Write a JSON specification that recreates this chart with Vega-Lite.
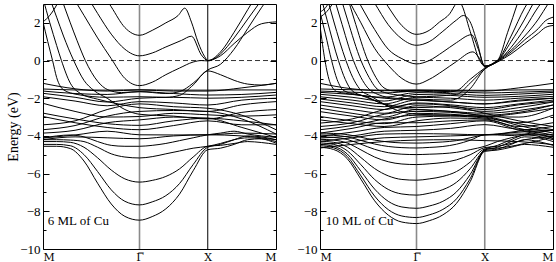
{
"$schema": "https://vega.github.io/schema/vega-lite/v6.json",
"padding": {"left": 5, "top": 2, "right": 3, "bottom": 0},
"background": "white",
"spacing": 19,
"config": {
  "view": {"stroke": "black", "strokeWidth": 1},
  "font": "Liberation Serif",
  "axisY": {"domain": false, "grid": false, "labelFont": "Liberation Serif", "labelFontSize": 13, "labelColor": "black", "tickColor": "black", "labelOverlap": false, "labelPadding": 9},
  "axisX": {"domain": false, "grid": false, "ticks": false, "labelFont": "DejaVu Serif", "labelFontSize": 11, "labelColor": "black", "labelPadding": 2, "title": null, "labelOverlap": false}
},
"datasets": {
"L": [
{"b":"u1","k":0.8,"e":4},{"b":"u1","k":1,"e":2.85},{"b":"u1","k":1.2,"e":1.75},{"b":"u1","k":1.414,"e":1.34},{"b":"u1","k":1.6,"e":1.6},{"b":"u1","k":1.8,"e":2},{"b":"u1","k":1.98,"e":2.39},{"b":"u1","k":2.077,"e":2.78},{"b":"u1","k":2.175,"e":2.04},{"b":"u1","k":2.27,"e":0.99},{"b":"u1","k":2.37,"e":0.2},{"b":"u1","k":2.414,"e":0},{"b":"u1","k":2.6,"e":0.45},{"b":"u1","k":2.8,"e":1.5},{"b":"u1","k":3,"e":2.7},{"b":"u1","k":3.2,"e":3.9},
{"b":"u2","k":0.6,"e":3.7},{"b":"u2","k":0.8,"e":2.5},{"b":"u2","k":1,"e":1.4},{"b":"u2","k":1.2,"e":0.6},{"b":"u2","k":1.414,"e":0.25},{"b":"u2","k":1.6,"e":0.4},{"b":"u2","k":1.8,"e":0.72},{"b":"u2","k":2.03,"e":1.07},{"b":"u2","k":2.175,"e":1.29},{"b":"u2","k":2.32,"e":0.3},{"b":"u2","k":2.414,"e":0},{"b":"u2","k":2.6,"e":0.25},{"b":"u2","k":2.8,"e":0.9},{"b":"u2","k":3,"e":1.5},{"b":"u2","k":3.2,"e":1.95},{"b":"u2","k":3.414,"e":2.05},
{"b":"u3","k":0.4,"e":3.6},{"b":"u3","k":0.6,"e":2.4},{"b":"u3","k":0.8,"e":1.2},{"b":"u3","k":1,"e":0.1},{"b":"u3","k":1.2,"e":-0.95},{"b":"u3","k":1.414,"e":-1.33},{"b":"u3","k":1.6,"e":-1.15},{"b":"u3","k":1.8,"e":-0.75},{"b":"u3","k":2,"e":-0.4},{"b":"u3","k":2.2,"e":-0.08},{"b":"u3","k":2.32,"e":0},{"b":"u3","k":2.414,"e":-0.02},{"b":"u3","k":2.6,"e":0.35},{"b":"u3","k":2.8,"e":1.2},{"b":"u3","k":3,"e":2.2},{"b":"u3","k":3.2,"e":3.2},
{"b":"a1","k":0,"e":2.05},{"b":"a1","k":0.1,"e":2.4},{"b":"a1","k":0.2,"e":2.95},{"b":"a1","k":0.26,"e":3.4},
{"b":"f2","k":0,"e":2.05},{"b":"f2","k":0.07,"e":1},{"b":"f2","k":0.14,"e":0},{"b":"f2","k":0.2,"e":-0.9},{"b":"f2","k":0.3,"e":-1.55},{"b":"f2","k":0.5,"e":-1.8},{"b":"f2","k":0.94,"e":-1.95},{"b":"f2","k":1.414,"e":-1.92},{"b":"f2","k":1.8,"e":-1.95},{"b":"f2","k":2,"e":-1.85},{"b":"f2","k":2.2,"e":-1.3},{"b":"f2","k":2.414,"e":-0.55},{"b":"f2","k":2.6,"e":-0.75},{"b":"f2","k":2.8,"e":-1.05},{"b":"f2","k":3,"e":-1.25},{"b":"f2","k":3.2,"e":-1.3},{"b":"f2","k":3.414,"e":-1.21},
{"b":"f5","k":0.25,"e":3.5},{"b":"f5","k":0.4,"e":2},{"b":"f5","k":0.5,"e":1.05},{"b":"f5","k":0.62,"e":0},{"b":"f5","k":0.8,"e":-1.1},{"b":"f5","k":0.95,"e":-1.55},{"b":"f5","k":1.15,"e":-1.7},{"b":"f5","k":1.414,"e":-1.65},{"b":"f5","k":1.8,"e":-1.75},{"b":"f5","k":2,"e":-1.65},{"b":"f5","k":2.2,"e":-1.2},{"b":"f5","k":2.414,"e":-0.5},{"b":"f5","k":2.6,"e":-0.2},{"b":"f5","k":2.8,"e":0.6},{"b":"f5","k":3,"e":1.7},{"b":"f5","k":3.2,"e":2.8},{"b":"f5","k":3.414,"e":3.9},
{"b":"f3","k":0,"e":3.3},{"b":"f3","k":0.1,"e":2},{"b":"f3","k":0.2,"e":0.8},{"b":"f3","k":0.27,"e":0},{"b":"f3","k":0.4,"e":-1.2},{"b":"f3","k":0.55,"e":-1.75},{"b":"f3","k":0.8,"e":-2.05},{"b":"f3","k":1.1,"e":-2.3},{"b":"f3","k":1.414,"e":-2.5},{"b":"f3","k":1.914,"e":-2.6},{"b":"f3","k":2.414,"e":-2.7},{"b":"f3","k":2.914,"e":-2.35},{"b":"f3","k":3.414,"e":-2.18},
{"b":"f4","k":0.1,"e":3.3},{"b":"f4","k":0.2,"e":2.3},{"b":"f4","k":0.3,"e":1.3},{"b":"f4","k":0.45,"e":0},{"b":"f4","k":0.6,"e":-1.05},{"b":"f4","k":0.75,"e":-1.6},{"b":"f4","k":0.94,"e":-2},{"b":"f4","k":1.2,"e":-2.6},{"b":"f4","k":1.414,"e":-2.85},{"b":"f4","k":1.914,"e":-2.95},{"b":"f4","k":2.414,"e":-3.1},{"b":"f4","k":2.914,"e":-2.75},{"b":"f4","k":3.414,"e":-2.6},
{"b":"d1","k":0,"e":-1.21},{"b":"d1","k":0.47,"e":-1.5},{"b":"d1","k":0.94,"e":-1.62},{"b":"d1","k":1.414,"e":-1.56},{"b":"d1","k":1.914,"e":-1.62},{"b":"d1","k":2.414,"e":-1.62},{"b":"d1","k":2.914,"e":-1.45},{"b":"d1","k":3.414,"e":-1.21},
{"b":"d2","k":0,"e":-1.51},{"b":"d2","k":0.47,"e":-1.56},{"b":"d2","k":0.94,"e":-1.57},{"b":"d2","k":1.414,"e":-1.55},{"b":"d2","k":1.914,"e":-1.57},{"b":"d2","k":2.414,"e":-1.57},{"b":"d2","k":2.914,"e":-1.56},{"b":"d2","k":3.414,"e":-1.56},
{"b":"d3","k":0,"e":-1.62},{"b":"d3","k":0.47,"e":-1.75},{"b":"d3","k":0.94,"e":-1.8},{"b":"d3","k":1.414,"e":-1.65},{"b":"d3","k":1.914,"e":-1.75},{"b":"d3","k":2.414,"e":-1.83},{"b":"d3","k":2.914,"e":-1.8},{"b":"d3","k":3.414,"e":-1.69},
{"b":"d4","k":0,"e":-1.74},{"b":"d4","k":0.47,"e":-1.95},{"b":"d4","k":0.94,"e":-2.2},{"b":"d4","k":1.414,"e":-2},{"b":"d4","k":1.914,"e":-1.95},{"b":"d4","k":2.414,"e":-2},{"b":"d4","k":2.914,"e":-1.95},{"b":"d4","k":3.414,"e":-1.83},
{"b":"d5","k":0,"e":-1.92},{"b":"d5","k":0.47,"e":-2.15},{"b":"d5","k":0.94,"e":-2.4},{"b":"d5","k":1.414,"e":-2.18},{"b":"d5","k":1.914,"e":-2.25},{"b":"d5","k":2.414,"e":-2.36},{"b":"d5","k":2.914,"e":-2.1},{"b":"d5","k":3.414,"e":-2},
{"b":"d7","k":0,"e":-2.27},{"b":"d7","k":0.47,"e":-2.7},{"b":"d7","k":0.94,"e":-3},{"b":"d7","k":1.414,"e":-2.97},{"b":"d7","k":1.914,"e":-2.8},{"b":"d7","k":2.414,"e":-2.88},{"b":"d7","k":2.914,"e":-2.95},{"b":"d7","k":3.414,"e":-2.88},
{"b":"d8","k":0,"e":-2.79},{"b":"d8","k":0.47,"e":-3.1},{"b":"d8","k":0.94,"e":-3.35},{"b":"d8","k":1.414,"e":-3.44},{"b":"d8","k":1.914,"e":-3.2},{"b":"d8","k":2.414,"e":-3.06},{"b":"d8","k":2.914,"e":-3.2},{"b":"d8","k":3.414,"e":-3.41},
{"b":"d9","k":0,"e":-2.97},{"b":"d9","k":0.47,"e":-3.3},{"b":"d9","k":0.94,"e":-3.55},{"b":"d9","k":1.414,"e":-3.67},{"b":"d9","k":1.914,"e":-3.45},{"b":"d9","k":2.414,"e":-3.2},{"b":"d9","k":2.914,"e":-3.41},{"b":"d9","k":3.414,"e":-3.41},
{"b":"d10","k":0,"e":-3.41},{"b":"d10","k":0.47,"e":-3.2},{"b":"d10","k":0.94,"e":-2.6},{"b":"d10","k":1.414,"e":-2.3},{"b":"d10","k":1.914,"e":-2.45},{"b":"d10","k":2.414,"e":-2.53},{"b":"d10","k":2.914,"e":-2.9},{"b":"d10","k":3.414,"e":-3.67},
{"b":"d11","k":0,"e":-3.67},{"b":"d11","k":0.47,"e":-3.45},{"b":"d11","k":0.94,"e":-2.95},{"b":"d11","k":1.414,"e":-2.7},{"b":"d11","k":1.914,"e":-2.65},{"b":"d11","k":2.414,"e":-2.7},{"b":"d11","k":2.914,"e":-3.1},{"b":"d11","k":3.414,"e":-3.9},
{"b":"d12","k":0,"e":-3.85},{"b":"d12","k":0.47,"e":-3.7},{"b":"d12","k":0.94,"e":-3.3},{"b":"d12","k":1.414,"e":-3.15},{"b":"d12","k":1.914,"e":-3},{"b":"d12","k":2.414,"e":-3.06},{"b":"d12","k":2.914,"e":-3.55},{"b":"d12","k":3.414,"e":-4.08},
{"b":"d13","k":0,"e":-4.11},{"b":"d13","k":0.47,"e":-3.95},{"b":"d13","k":0.94,"e":-3.75},{"b":"d13","k":1.414,"e":-3.94},{"b":"d13","k":1.914,"e":-3.95},{"b":"d13","k":2.414,"e":-3.94},{"b":"d13","k":2.914,"e":-3.85},{"b":"d13","k":3.414,"e":-3.9},
{"b":"d14","k":0,"e":-4.2},{"b":"d14","k":0.47,"e":-4.05},{"b":"d14","k":0.94,"e":-4.1},{"b":"d14","k":1.414,"e":-4.15},{"b":"d14","k":1.914,"e":-4},{"b":"d14","k":2.414,"e":-3.94},{"b":"d14","k":2.914,"e":-4},{"b":"d14","k":3.414,"e":-4.2},
{"b":"q1","k":0,"e":-4.55},{"b":"q1","k":0.2,"e":-4.55},{"b":"q1","k":0.4,"e":-4.67},{"b":"q1","k":0.6,"e":-5.33},{"b":"q1","k":0.8,"e":-6.51},{"b":"q1","k":1,"e":-7.61},{"b":"q1","k":1.2,"e":-8.27},{"b":"q1","k":1.414,"e":-8.47},{"b":"q1","k":1.6,"e":-8.28},{"b":"q1","k":1.8,"e":-7.87},{"b":"q1","k":2,"e":-7.09},{"b":"q1","k":2.2,"e":-5.85},{"b":"q1","k":2.414,"e":-4.73},{"b":"q1","k":2.6,"e":-4.65},{"b":"q1","k":2.8,"e":-4.45},{"b":"q1","k":3,"e":-4.2},{"b":"q1","k":3.2,"e":-4.15},{"b":"q1","k":3.414,"e":-4.3},
{"b":"q2","k":0,"e":-4.45},{"b":"q2","k":0.2,"e":-4.45},{"b":"q2","k":0.4,"e":-4.52},{"b":"q2","k":0.6,"e":-4.99},{"b":"q2","k":0.8,"e":-5.89},{"b":"q2","k":1,"e":-6.86},{"b":"q2","k":1.2,"e":-7.47},{"b":"q2","k":1.414,"e":-7.66},{"b":"q2","k":1.6,"e":-7.5},{"b":"q2","k":1.8,"e":-7.17},{"b":"q2","k":2,"e":-6.53},{"b":"q2","k":2.2,"e":-5.52},{"b":"q2","k":2.414,"e":-4.6},{"b":"q2","k":2.6,"e":-4.45},{"b":"q2","k":2.8,"e":-4.2},{"b":"q2","k":3,"e":-4},{"b":"q2","k":3.2,"e":-4.05},{"b":"q2","k":3.414,"e":-4.2},
{"b":"q3","k":0,"e":-4.3},{"b":"q3","k":0.2,"e":-4.3},{"b":"q3","k":0.4,"e":-4.34},{"b":"q3","k":0.6,"e":-4.6},{"b":"q3","k":0.8,"e":-5.16},{"b":"q3","k":1,"e":-5.81},{"b":"q3","k":1.2,"e":-6.28},{"b":"q3","k":1.414,"e":-6.45},{"b":"q3","k":1.6,"e":-6.36},{"b":"q3","k":1.8,"e":-6.15},{"b":"q3","k":2,"e":-5.75},{"b":"q3","k":2.2,"e":-5.12},{"b":"q3","k":2.414,"e":-4.55},{"b":"q3","k":2.6,"e":-4.5},{"b":"q3","k":2.8,"e":-4.4},{"b":"q3","k":3,"e":-4.3},{"b":"q3","k":3.2,"e":-4.35},{"b":"q3","k":3.414,"e":-4.45},
{"b":"q4","k":0,"e":-4.2},{"b":"q4","k":0.2,"e":-4.2},{"b":"q4","k":0.4,"e":-4.22},{"b":"q4","k":0.6,"e":-4.3},{"b":"q4","k":0.8,"e":-4.6},{"b":"q4","k":1,"e":-4.95},{"b":"q4","k":1.2,"e":-5.12},{"b":"q4","k":1.414,"e":-5.17},{"b":"q4","k":1.6,"e":-5.1},{"b":"q4","k":1.8,"e":-4.95},{"b":"q4","k":2,"e":-4.8},{"b":"q4","k":2.2,"e":-4.65},{"b":"q4","k":2.414,"e":-4.55},{"b":"q4","k":2.6,"e":-4.4},{"b":"q4","k":2.8,"e":-4.2},{"b":"q4","k":3,"e":-4.1},{"b":"q4","k":3.2,"e":-4.15},{"b":"q4","k":3.414,"e":-4.38},
{"b":"q5","k":0,"e":-4.11},{"b":"q5","k":0.2,"e":-4},{"b":"q5","k":0.4,"e":-3.95},{"b":"q5","k":0.6,"e":-4.05},{"b":"q5","k":0.8,"e":-4.3},{"b":"q5","k":1,"e":-4.5},{"b":"q5","k":1.2,"e":-4.55},{"b":"q5","k":1.414,"e":-4.55},{"b":"q5","k":1.6,"e":-4.5},{"b":"q5","k":1.8,"e":-4.4},{"b":"q5","k":2,"e":-4.25},{"b":"q5","k":2.2,"e":-4.1},{"b":"q5","k":2.414,"e":-3.94},{"b":"q5","k":2.6,"e":-3.85},{"b":"q5","k":2.8,"e":-3.75},{"b":"q5","k":3,"e":-3.9},{"b":"q5","k":3.2,"e":-4},{"b":"q5","k":3.414,"e":-4.08}
],
"R": [
{"b":"v1","k":0.8,"e":4},{"b":"v1","k":1,"e":2.85},{"b":"v1","k":1.2,"e":1.85},{"b":"v1","k":1.414,"e":1.39},{"b":"v1","k":1.6,"e":1.6},{"b":"v1","k":1.75,"e":2.04},{"b":"v1","k":1.9,"e":2.48},{"b":"v1","k":2,"e":3.05},{"b":"v1","k":2.03,"e":3.15},{"b":"v1","k":2.06,"e":3.05},{"b":"v1","k":2.2,"e":1.55},{"b":"v1","k":2.34,"e":0},{"b":"v1","k":2.414,"e":-0.3},{"b":"v1","k":2.6,"e":0},{"b":"v1","k":2.75,"e":1.5},{"b":"v1","k":2.9,"e":3.1},
{"b":"v2","k":0.6,"e":4.2},{"b":"v2","k":0.8,"e":3.05},{"b":"v2","k":1,"e":1.9},{"b":"v2","k":1.2,"e":1.15},{"b":"v2","k":1.414,"e":0.81},{"b":"v2","k":1.6,"e":1},{"b":"v2","k":1.8,"e":1.55},{"b":"v2","k":2,"e":2.15},{"b":"v2","k":2.1,"e":2.39},{"b":"v2","k":2.2,"e":2.05},{"b":"v2","k":2.3,"e":1},{"b":"v2","k":2.414,"e":-0.3},{"b":"v2","k":2.6,"e":0},{"b":"v2","k":2.8,"e":1.3},{"b":"v2","k":3,"e":2.8},{"b":"v2","k":3.05,"e":3.1},
{"b":"v3","k":0.45,"e":3.9},{"b":"v3","k":0.6,"e":2.9},{"b":"v3","k":0.8,"e":1.65},{"b":"v3","k":1,"e":0.6},{"b":"v3","k":1.2,"e":0.1},{"b":"v3","k":1.414,"e":-0.18},{"b":"v3","k":1.6,"e":0},{"b":"v3","k":1.8,"e":0.45},{"b":"v3","k":2,"e":0.95},{"b":"v3","k":2.22,"e":1.37},{"b":"v3","k":2.32,"e":0.6},{"b":"v3","k":2.414,"e":-0.3},{"b":"v3","k":2.6,"e":-0.02},{"b":"v3","k":2.8,"e":1},{"b":"v3","k":3,"e":2.2},{"b":"v3","k":3.12,"e":3},{"b":"v3","k":3.2,"e":3.5},
{"b":"v4","k":0.3,"e":4.3},{"b":"v4","k":0.4,"e":3.4},{"b":"v4","k":0.6,"e":2},{"b":"v4","k":0.8,"e":0.65},{"b":"v4","k":1,"e":-0.25},{"b":"v4","k":1.2,"e":-0.95},{"b":"v4","k":1.414,"e":-1.25},{"b":"v4","k":1.6,"e":-1},{"b":"v4","k":1.8,"e":-0.55},{"b":"v4","k":2,"e":-0.05},{"b":"v4","k":2.24,"e":0.46},{"b":"v4","k":2.33,"e":0.15},{"b":"v4","k":2.414,"e":-0.3},{"b":"v4","k":2.6,"e":-0.05},{"b":"v4","k":2.8,"e":0.7},{"b":"v4","k":3,"e":1.7},{"b":"v4","k":3.2,"e":2.85},{"b":"v4","k":3.25,"e":3.1},
{"b":"v5","k":0.4,"e":3.4},{"b":"v5","k":0.5,"e":2.2},{"b":"v5","k":0.7,"e":0},{"b":"v5","k":0.82,"e":-0.9},{"b":"v5","k":0.92,"e":-1.4},{"b":"v5","k":1.05,"e":-1.6},{"b":"v5","k":1.25,"e":-1.65},{"b":"v5","k":1.414,"e":-1.6},{"b":"v5","k":1.8,"e":-1.7},{"b":"v5","k":2,"e":-1.6},{"b":"v5","k":2.2,"e":-1},{"b":"v5","k":2.414,"e":-0.4},{"b":"v5","k":2.6,"e":0},{"b":"v5","k":2.8,"e":0.55},{"b":"v5","k":3,"e":1.3},{"b":"v5","k":3.2,"e":2.2},{"b":"v5","k":3.34,"e":3},{"b":"v5","k":3.414,"e":3.4},
{"b":"v6","k":0.3,"e":3.4},{"b":"v6","k":0.4,"e":2.2},{"b":"v6","k":0.6,"e":0},{"b":"v6","k":0.72,"e":-0.9},{"b":"v6","k":0.82,"e":-1.45},{"b":"v6","k":0.95,"e":-1.7},{"b":"v6","k":1.2,"e":-1.85},{"b":"v6","k":1.414,"e":-1.92},{"b":"v6","k":2,"e":-1.8},{"b":"v6","k":2.2,"e":-1.2},{"b":"v6","k":2.414,"e":-0.45},{"b":"v6","k":2.6,"e":-0.05},{"b":"v6","k":2.8,"e":0.45},{"b":"v6","k":3,"e":1.1},{"b":"v6","k":3.2,"e":1.7},{"b":"v6","k":3.3,"e":2.1},{"b":"v6","k":3.414,"e":2.3},
{"b":"v7","k":0.2,"e":3.4},{"b":"v7","k":0.3,"e":2.2},{"b":"v7","k":0.49,"e":0},{"b":"v7","k":0.6,"e":-0.9},{"b":"v7","k":0.7,"e":-1.45},{"b":"v7","k":0.85,"e":-1.8},{"b":"v7","k":1.1,"e":-2},{"b":"v7","k":1.414,"e":-2.04},{"b":"v7","k":1.914,"e":-2.1},{"b":"v7","k":2.2,"e":-1.5},{"b":"v7","k":2.414,"e":-0.45},{"b":"v7","k":2.6,"e":-0.08},{"b":"v7","k":2.8,"e":0.35},{"b":"v7","k":3,"e":0.9},{"b":"v7","k":3.2,"e":1.45},{"b":"v7","k":3.3,"e":1.75},{"b":"v7","k":3.414,"e":1.86},
{"b":"g1","k":0,"e":1.86},{"b":"g1","k":0.073,"e":0},{"b":"g1","k":0.15,"e":-1.2},{"b":"g1","k":0.25,"e":-1.65},{"b":"g1","k":0.5,"e":-1.8},{"b":"g1","k":0.94,"e":-2},{"b":"g1","k":1.414,"e":-2.1},{"b":"g1","k":1.914,"e":-2.2},{"b":"g1","k":2.414,"e":-2.3},{"b":"g1","k":2.914,"e":-2.1},{"b":"g1","k":3.414,"e":-2},
{"b":"g2","k":0,"e":2.57},{"b":"g2","k":0.08,"e":1.4},{"b":"g2","k":0.17,"e":0},{"b":"g2","k":0.25,"e":-1},{"b":"g2","k":0.35,"e":-1.6},{"b":"g2","k":0.6,"e":-1.85},{"b":"g2","k":0.94,"e":-2.3},{"b":"g2","k":1.414,"e":-2.5},{"b":"g2","k":1.914,"e":-2.45},{"b":"g2","k":2.414,"e":-2.6},{"b":"g2","k":2.914,"e":-2.35},{"b":"g2","k":3.414,"e":-2.18},
{"b":"g3","k":0.02,"e":3.3},{"b":"g3","k":0.1,"e":2.2},{"b":"g3","k":0.27,"e":0},{"b":"g3","k":0.37,"e":-1},{"b":"g3","k":0.47,"e":-1.6},{"b":"g3","k":0.7,"e":-1.95},{"b":"g3","k":1,"e":-2.4},{"b":"g3","k":1.414,"e":-2.6},{"b":"g3","k":1.914,"e":-2.7},{"b":"g3","k":2.414,"e":-2.8},{"b":"g3","k":2.914,"e":-2.65},{"b":"g3","k":3.414,"e":-2.36},
{"b":"g4","k":0.1,"e":3.4},{"b":"g4","k":0.2,"e":2.1},{"b":"g4","k":0.38,"e":0},{"b":"g4","k":0.48,"e":-0.9},{"b":"g4","k":0.58,"e":-1.5},{"b":"g4","k":0.75,"e":-1.9},{"b":"g4","k":1.1,"e":-2.6},{"b":"g4","k":1.414,"e":-2.85},{"b":"g4","k":1.914,"e":-2.9},{"b":"g4","k":2.414,"e":-2.97},{"b":"g4","k":2.914,"e":-2.8},{"b":"g4","k":3.414,"e":-2.53},
{"b":"a1","k":0,"e":2.57},{"b":"a1","k":0.08,"e":2.8},{"b":"a1","k":0.15,"e":3.2},
{"b":"a2","k":0,"e":2.3},{"b":"a2","k":0.1,"e":2.6},{"b":"a2","k":0.2,"e":3.1},
{"b":"r1","k":0,"e":-1.21},{"b":"r1","k":0.47,"e":-1.5},{"b":"r1","k":0.94,"e":-1.6},{"b":"r1","k":1.414,"e":-1.58},{"b":"r1","k":1.914,"e":-1.6},{"b":"r1","k":2.414,"e":-1.62},{"b":"r1","k":2.914,"e":-1.45},{"b":"r1","k":3.414,"e":-1.21},
{"b":"r2","k":0,"e":-1.51},{"b":"r2","k":0.47,"e":-1.55},{"b":"r2","k":0.94,"e":-1.57},{"b":"r2","k":1.414,"e":-1.56},{"b":"r2","k":1.914,"e":-1.57},{"b":"r2","k":2.414,"e":-1.58},{"b":"r2","k":2.914,"e":-1.56},{"b":"r2","k":3.414,"e":-1.55},
{"b":"r3","k":0,"e":-1.62},{"b":"r3","k":0.47,"e":-1.68},{"b":"r3","k":0.94,"e":-1.72},{"b":"r3","k":1.414,"e":-1.62},{"b":"r3","k":1.914,"e":-1.65},{"b":"r3","k":2.414,"e":-1.72},{"b":"r3","k":2.914,"e":-1.68},{"b":"r3","k":3.414,"e":-1.62},
{"b":"r4","k":0,"e":-1.69},{"b":"r4","k":0.47,"e":-1.8},{"b":"r4","k":0.94,"e":-1.95},{"b":"r4","k":1.414,"e":-1.7},{"b":"r4","k":1.914,"e":-1.75},{"b":"r4","k":2.414,"e":-1.85},{"b":"r4","k":2.914,"e":-1.78},{"b":"r4","k":3.414,"e":-1.69},
{"b":"r5","k":0,"e":-1.79},{"b":"r5","k":0.47,"e":-1.95},{"b":"r5","k":0.94,"e":-2.15},{"b":"r5","k":1.414,"e":-1.8},{"b":"r5","k":1.914,"e":-1.85},{"b":"r5","k":2.414,"e":-1.95},{"b":"r5","k":2.914,"e":-1.9},{"b":"r5","k":3.414,"e":-1.79},
{"b":"r6","k":0,"e":-1.92},{"b":"r6","k":0.47,"e":-2.1},{"b":"r6","k":0.94,"e":-2.3},{"b":"r6","k":1.414,"e":-1.95},{"b":"r6","k":1.914,"e":-2},{"b":"r6","k":2.414,"e":-2.1},{"b":"r6","k":2.914,"e":-2},{"b":"r6","k":3.414,"e":-1.9},
{"b":"r7","k":0,"e":-2.04},{"b":"r7","k":0.47,"e":-2.25},{"b":"r7","k":0.94,"e":-2.45},{"b":"r7","k":1.414,"e":-2.1},{"b":"r7","k":1.914,"e":-2.2},{"b":"r7","k":2.414,"e":-2.3},{"b":"r7","k":2.914,"e":-2.15},{"b":"r7","k":3.414,"e":-2},
{"b":"r8","k":0,"e":-2.18},{"b":"r8","k":0.47,"e":-2.4},{"b":"r8","k":0.94,"e":-2.6},{"b":"r8","k":1.414,"e":-2.25},{"b":"r8","k":1.914,"e":-2.35},{"b":"r8","k":2.414,"e":-2.5},{"b":"r8","k":2.914,"e":-2.3},{"b":"r8","k":3.414,"e":-2.1},
{"b":"r9","k":0,"e":-2.36},{"b":"r9","k":0.47,"e":-2.6},{"b":"r9","k":0.94,"e":-2.8},{"b":"r9","k":1.414,"e":-2.4},{"b":"r9","k":1.914,"e":-2.5},{"b":"r9","k":2.414,"e":-2.7},{"b":"r9","k":2.914,"e":-2.5},{"b":"r9","k":3.414,"e":-2.2},
{"b":"r10","k":0,"e":-2.53},{"b":"r10","k":0.47,"e":-2.8},{"b":"r10","k":0.94,"e":-3},{"b":"r10","k":1.414,"e":-2.6},{"b":"r10","k":1.914,"e":-2.7},{"b":"r10","k":2.414,"e":-2.9},{"b":"r10","k":2.914,"e":-2.75},{"b":"r10","k":3.414,"e":-2.36},
{"b":"r11","k":0,"e":-2.71},{"b":"r11","k":0.47,"e":-2.95},{"b":"r11","k":0.94,"e":-3.15},{"b":"r11","k":1.414,"e":-2.8},{"b":"r11","k":1.914,"e":-2.85},{"b":"r11","k":2.414,"e":-2.97},{"b":"r11","k":2.914,"e":-3},{"b":"r11","k":3.414,"e":-2.53},
{"b":"r12","k":0,"e":-2.97},{"b":"r12","k":0.47,"e":-3.2},{"b":"r12","k":0.94,"e":-3.35},{"b":"r12","k":1.414,"e":-3},{"b":"r12","k":1.914,"e":-2.95},{"b":"r12","k":2.414,"e":-3.05},{"b":"r12","k":2.914,"e":-3.3},{"b":"r12","k":3.414,"e":-2.9},
{"b":"r13","k":0,"e":-3.15},{"b":"r13","k":0.47,"e":-3.35},{"b":"r13","k":0.94,"e":-3.5},{"b":"r13","k":1.414,"e":-3.2},{"b":"r13","k":1.914,"e":-3.05},{"b":"r13","k":2.414,"e":-3.1},{"b":"r13","k":2.914,"e":-3.5},{"b":"r13","k":3.414,"e":-3.3},
{"b":"r14","k":0,"e":-3.32},{"b":"r14","k":0.47,"e":-3.1},{"b":"r14","k":0.94,"e":-2.6},{"b":"r14","k":1.414,"e":-2.3},{"b":"r14","k":1.914,"e":-2.4},{"b":"r14","k":2.414,"e":-2.8},{"b":"r14","k":2.914,"e":-3.2},{"b":"r14","k":3.414,"e":-3.5},
{"b":"r15","k":0,"e":-3.5},{"b":"r15","k":0.47,"e":-3.3},{"b":"r15","k":0.94,"e":-2.85},{"b":"r15","k":1.414,"e":-2.7},{"b":"r15","k":1.914,"e":-2.75},{"b":"r15","k":2.414,"e":-2.95},{"b":"r15","k":2.914,"e":-3.35},{"b":"r15","k":3.414,"e":-3.67},
{"b":"r16","k":0,"e":-3.67},{"b":"r16","k":0.47,"e":-3.45},{"b":"r16","k":0.94,"e":-3.1},{"b":"r16","k":1.414,"e":-2.9},{"b":"r16","k":1.914,"e":-2.9},{"b":"r16","k":2.414,"e":-3},{"b":"r16","k":2.914,"e":-3.45},{"b":"r16","k":3.414,"e":-3.85},
{"b":"r17","k":0,"e":-3.85},{"b":"r17","k":0.47,"e":-3.6},{"b":"r17","k":0.94,"e":-3.3},{"b":"r17","k":1.414,"e":-3.3},{"b":"r17","k":1.914,"e":-3.2},{"b":"r17","k":2.414,"e":-3.15},{"b":"r17","k":2.914,"e":-3.6},{"b":"r17","k":3.414,"e":-3.95},
{"b":"r18","k":0,"e":-4.02},{"b":"r18","k":0.47,"e":-3.8},{"b":"r18","k":0.94,"e":-3.55},{"b":"r18","k":1.414,"e":-3.5},{"b":"r18","k":1.914,"e":-3.35},{"b":"r18","k":2.414,"e":-3.2},{"b":"r18","k":2.914,"e":-3.7},{"b":"r18","k":3.414,"e":-4.05},
{"b":"r19","k":0,"e":-4.11},{"b":"r19","k":0.47,"e":-4},{"b":"r19","k":0.94,"e":-3.75},{"b":"r19","k":1.414,"e":-3.7},{"b":"r19","k":1.914,"e":-3.6},{"b":"r19","k":2.414,"e":-3.4},{"b":"r19","k":2.914,"e":-3.65},{"b":"r19","k":3.414,"e":-3.7},
{"b":"r20","k":0,"e":-4.29},{"b":"r20","k":0.47,"e":-4.1},{"b":"r20","k":0.94,"e":-3.9},{"b":"r20","k":1.414,"e":-3.88},{"b":"r20","k":1.914,"e":-3.9},{"b":"r20","k":2.414,"e":-3.94},{"b":"r20","k":2.914,"e":-3.8},{"b":"r20","k":3.414,"e":-3.7},
{"b":"r21","k":0,"e":-4.46},{"b":"r21","k":0.47,"e":-4.3},{"b":"r21","k":0.94,"e":-4.1},{"b":"r21","k":1.414,"e":-4.05},{"b":"r21","k":1.914,"e":-4},{"b":"r21","k":2.414,"e":-3.94},{"b":"r21","k":2.914,"e":-3.9},{"b":"r21","k":3.414,"e":-4.2},
{"b":"r22","k":0,"e":-4.64},{"b":"r22","k":0.47,"e":-4.45},{"b":"r22","k":0.94,"e":-4.3},{"b":"r22","k":1.414,"e":-4.22},{"b":"r22","k":1.914,"e":-4.2},{"b":"r22","k":2.414,"e":-4.25},{"b":"r22","k":2.914,"e":-4.3},{"b":"r22","k":3.414,"e":-4.46},
{"b":"q1","k":0,"e":-4.6},{"b":"q1","k":0.2,"e":-4.72},{"b":"q1","k":0.4,"e":-5.21},{"b":"q1","k":0.6,"e":-6.3},{"b":"q1","k":0.8,"e":-7.44},{"b":"q1","k":1,"e":-8.2},{"b":"q1","k":1.2,"e":-8.57},{"b":"q1","k":1.414,"e":-8.65},{"b":"q1","k":1.6,"e":-8.5},{"b":"q1","k":1.8,"e":-8.19},{"b":"q1","k":2,"e":-7.58},{"b":"q1","k":2.2,"e":-6.43},{"b":"q1","k":2.414,"e":-4.82},{"b":"q1","k":2.6,"e":-4.75},{"b":"q1","k":2.8,"e":-4.6},{"b":"q1","k":3,"e":-4.45},{"b":"q1","k":3.2,"e":-4.5},{"b":"q1","k":3.414,"e":-4.6},
{"b":"q2","k":0,"e":-4.52},{"b":"q2","k":0.2,"e":-4.63},{"b":"q2","k":0.4,"e":-5.09},{"b":"q2","k":0.6,"e":-6.12},{"b":"q2","k":0.8,"e":-7.19},{"b":"q2","k":1,"e":-7.91},{"b":"q2","k":1.2,"e":-8.25},{"b":"q2","k":1.414,"e":-8.33},{"b":"q2","k":1.6,"e":-8.19},{"b":"q2","k":1.8,"e":-7.9},{"b":"q2","k":2,"e":-7.34},{"b":"q2","k":2.2,"e":-6.27},{"b":"q2","k":2.414,"e":-4.78},{"b":"q2","k":2.6,"e":-4.7},{"b":"q2","k":2.8,"e":-4.45},{"b":"q2","k":3,"e":-4.2},{"b":"q2","k":3.2,"e":-4.3},{"b":"q2","k":3.414,"e":-4.5},
{"b":"q3","k":0,"e":-4.45},{"b":"q3","k":0.2,"e":-4.55},{"b":"q3","k":0.4,"e":-4.96},{"b":"q3","k":0.6,"e":-5.87},{"b":"q3","k":0.8,"e":-6.82},{"b":"q3","k":1,"e":-7.47},{"b":"q3","k":1.2,"e":-7.77},{"b":"q3","k":1.414,"e":-7.84},{"b":"q3","k":1.6,"e":-7.72},{"b":"q3","k":1.8,"e":-7.47},{"b":"q3","k":2,"e":-6.97},{"b":"q3","k":2.2,"e":-6.05},{"b":"q3","k":2.414,"e":-4.75},{"b":"q3","k":2.6,"e":-4.6},{"b":"q3","k":2.8,"e":-4.3},{"b":"q3","k":3,"e":-4.05},{"b":"q3","k":3.2,"e":-4.1},{"b":"q3","k":3.414,"e":-4.3},
{"b":"q4","k":0,"e":-4.37},{"b":"q4","k":0.2,"e":-4.45},{"b":"q4","k":0.4,"e":-4.79},{"b":"q4","k":0.6,"e":-5.53},{"b":"q4","k":0.8,"e":-6.31},{"b":"q4","k":1,"e":-6.84},{"b":"q4","k":1.2,"e":-7.08},{"b":"q4","k":1.414,"e":-7.14},{"b":"q4","k":1.6,"e":-7.04},{"b":"q4","k":1.8,"e":-6.85},{"b":"q4","k":2,"e":-6.46},{"b":"q4","k":2.2,"e":-5.74},{"b":"q4","k":2.414,"e":-4.72},{"b":"q4","k":2.6,"e":-4.5},{"b":"q4","k":2.8,"e":-4.2},{"b":"q4","k":3,"e":-3.95},{"b":"q4","k":3.2,"e":-3.95},{"b":"q4","k":3.414,"e":-4.15},
{"b":"q5","k":0,"e":-4.28},{"b":"q5","k":0.2,"e":-4.34},{"b":"q5","k":0.4,"e":-4.59},{"b":"q5","k":0.6,"e":-5.15},{"b":"q5","k":0.8,"e":-5.73},{"b":"q5","k":1,"e":-6.12},{"b":"q5","k":1.2,"e":-6.31},{"b":"q5","k":1.414,"e":-6.35},{"b":"q5","k":1.6,"e":-6.28},{"b":"q5","k":1.8,"e":-6.15},{"b":"q5","k":2,"e":-5.89},{"b":"q5","k":2.2,"e":-5.39},{"b":"q5","k":2.414,"e":-4.7},{"b":"q5","k":2.6,"e":-4.65},{"b":"q5","k":2.8,"e":-4.55},{"b":"q5","k":3,"e":-4.4},{"b":"q5","k":3.2,"e":-4.25},{"b":"q5","k":3.414,"e":-4.05},
{"b":"q6","k":0,"e":-4.18},{"b":"q6","k":0.2,"e":-4.22},{"b":"q6","k":0.4,"e":-4.38},{"b":"q6","k":0.6,"e":-4.74},{"b":"q6","k":0.8,"e":-5.12},{"b":"q6","k":1,"e":-5.37},{"b":"q6","k":1.2,"e":-5.49},{"b":"q6","k":1.414,"e":-5.52},{"b":"q6","k":1.6,"e":-5.48},{"b":"q6","k":1.8,"e":-5.41},{"b":"q6","k":2,"e":-5.27},{"b":"q6","k":2.2,"e":-5},{"b":"q6","k":2.414,"e":-4.62},{"b":"q6","k":2.6,"e":-4.55},{"b":"q6","k":2.8,"e":-4.4},{"b":"q6","k":3,"e":-4.2},{"b":"q6","k":3.2,"e":-4.1},{"b":"q6","k":3.414,"e":-4},
{"b":"q7","k":0,"e":-4.05},{"b":"q7","k":0.2,"e":-4.08},{"b":"q7","k":0.4,"e":-4.19},{"b":"q7","k":0.6,"e":-4.44},{"b":"q7","k":0.8,"e":-4.71},{"b":"q7","k":1,"e":-4.89},{"b":"q7","k":1.2,"e":-4.97},{"b":"q7","k":1.414,"e":-4.99},{"b":"q7","k":1.6,"e":-4.97},{"b":"q7","k":1.8,"e":-4.94},{"b":"q7","k":2,"e":-4.87},{"b":"q7","k":2.2,"e":-4.73},{"b":"q7","k":2.414,"e":-4.55},{"b":"q7","k":2.6,"e":-4.3},{"b":"q7","k":2.8,"e":-4.1},{"b":"q7","k":3,"e":-3.95},{"b":"q7","k":3.2,"e":-3.9},{"b":"q7","k":3.414,"e":-3.95},
{"b":"q8","k":0,"e":-3.95},{"b":"q8","k":0.2,"e":-3.97},{"b":"q8","k":0.4,"e":-4.05},{"b":"q8","k":0.6,"e":-4.24},{"b":"q8","k":0.8,"e":-4.43},{"b":"q8","k":1,"e":-4.56},{"b":"q8","k":1.2,"e":-4.62},{"b":"q8","k":1.414,"e":-4.64},{"b":"q8","k":1.6,"e":-4.61},{"b":"q8","k":1.8,"e":-4.56},{"b":"q8","k":2,"e":-4.44},{"b":"q8","k":2.2,"e":-4.23},{"b":"q8","k":2.414,"e":-3.94},{"b":"q8","k":2.6,"e":-3.95},{"b":"q8","k":2.8,"e":-3.98},{"b":"q8","k":3,"e":-3.9},{"b":"q8","k":3.2,"e":-3.8},{"b":"q8","k":3.414,"e":-3.7},
{"b":"q9","k":0,"e":-3.85},{"b":"q9","k":0.2,"e":-3.87},{"b":"q9","k":0.4,"e":-3.93},{"b":"q9","k":0.6,"e":-4.07},{"b":"q9","k":0.8,"e":-4.22},{"b":"q9","k":1,"e":-4.32},{"b":"q9","k":1.2,"e":-4.37},{"b":"q9","k":1.414,"e":-4.38},{"b":"q9","k":1.6,"e":-4.36},{"b":"q9","k":1.8,"e":-4.32},{"b":"q9","k":2,"e":-4.25},{"b":"q9","k":2.2,"e":-4.1},{"b":"q9","k":2.414,"e":-3.94},{"b":"q9","k":2.6,"e":-3.9},{"b":"q9","k":2.8,"e":-3.8},{"b":"q9","k":3,"e":-3.7},{"b":"q9","k":3.2,"e":-3.6},{"b":"q9","k":3.414,"e":-3.5}
]
},
"hconcat": [
{
  "width": 233, "height": 245,
  "resolve": {"axis": {"y": "independent"}},
  "layer": [
    {"data": {"values": [{}]}, "mark": {"type": "rule", "color": "#8a8a8a", "strokeWidth": 1.6},
     "encoding": {"x": {"datum": 1.414, "type": "quantitative", "scale": {"domain": [0, 3.414], "nice": false, "zero": false},
       "axis": {"values": [0, 1.414, 2.414, 3.414],
         "labelExpr": "datum.value < 0.5 ? 'M\u0305' : datum.value < 2 ? '\u0393\u0305' : datum.value < 3 ? 'X\u0305' : 'M\u0305'"}}}},
    {"data": {"values": [{}]}, "mark": {"type": "rule", "color": "black", "strokeWidth": 1},
     "encoding": {"x": {"datum": 2.414, "type": "quantitative", "scale": {"domain": [0, 3.414], "nice": false, "zero": false}}}},
    {"data": {"values": [{}]}, "mark": {"type": "rule", "color": "#333333", "strokeWidth": 1, "strokeDash": [5, 3]},
     "encoding": {"y": {"datum": 0, "type": "quantitative", "scale": {"domain": [-10, 3], "nice": false, "zero": false},
       "axis": {"orient": "right", "labels": false, "title": null, "minExtent": 0, "maxExtent": 0,
         "values": [-10,-9,-8,-7,-6,-5,-4,-3,-2,-1,0,1,2],
         "tickSize": {"condition": {"test": "datum.value % 2 == 0", "value": -6}, "value": -3}}}}},
    {"data": {"name": "L"}, "mark": {"type": "line", "interpolate": "monotone", "clip": true, "color": "black", "strokeWidth": 1},
     "encoding": {
       "x": {"field": "k", "type": "quantitative", "scale": {"domain": [0, 3.414], "nice": false, "zero": false}},
       "y": {"field": "e", "type": "quantitative", "scale": {"domain": [-10, 3], "nice": false, "zero": false},
         "axis": {"orient": "left", "title": "Energy (eV)", "titleFont": "Liberation Serif", "titleFontSize": 14, "titleFontWeight": "normal", "titlePadding": 3,
           "minExtent": 20, "maxExtent": 20,
           "values": [-10,-9,-8,-7,-6,-5,-4,-3,-2,-1,0,1,2],
           "tickSize": {"condition": {"test": "datum.value % 2 == 0", "value": -6}, "value": -3},
           "labelExpr": "datum.value % 2 == 0 ? datum.label : ''"}},
       "detail": {"field": "b"}}},
    {"data": {"values": [{}]}, "mark": {"type": "text", "align": "left", "baseline": "middle", "font": "Liberation Serif", "fontSize": 13, "color": "black"},
     "encoding": {"x": {"datum": 0.07, "type": "quantitative"}, "y": {"datum": -8.5, "type": "quantitative", "axis": null}, "text": {"value": "6 ML of Cu"}}}
  ]
},
{
  "width": 233, "height": 245,
  "resolve": {"axis": {"y": "independent"}},
  "layer": [
    {"data": {"values": [{}]}, "mark": {"type": "rule", "color": "#8a8a8a", "strokeWidth": 1.6},
     "encoding": {"x": {"datum": 1.414, "type": "quantitative", "scale": {"domain": [0, 3.414], "nice": false, "zero": false},
       "axis": {"values": [0, 1.414, 2.414, 3.414],
         "labelExpr": "datum.value < 0.5 ? 'M\u0305' : datum.value < 2 ? '\u0393\u0305' : datum.value < 3 ? 'X\u0305' : 'M\u0305'"}}}},
    {"data": {"values": [{}]}, "mark": {"type": "rule", "color": "#8a8a8a", "strokeWidth": 1.6},
     "encoding": {"x": {"datum": 2.414, "type": "quantitative", "scale": {"domain": [0, 3.414], "nice": false, "zero": false}}}},
    {"data": {"values": [{}]}, "mark": {"type": "rule", "color": "#333333", "strokeWidth": 1, "strokeDash": [5, 3]},
     "encoding": {"y": {"datum": 0, "type": "quantitative", "scale": {"domain": [-10, 3], "nice": false, "zero": false},
       "axis": {"orient": "right", "labels": false, "title": null, "minExtent": 0, "maxExtent": 0,
         "values": [-10,-9,-8,-7,-6,-5,-4,-3,-2,-1,0,1,2],
         "tickSize": {"condition": {"test": "datum.value % 2 == 0", "value": -6}, "value": -3}}}}},
    {"data": {"name": "R"}, "mark": {"type": "line", "interpolate": "monotone", "clip": true, "color": "black", "strokeWidth": 1},
     "encoding": {
       "x": {"field": "k", "type": "quantitative", "scale": {"domain": [0, 3.414], "nice": false, "zero": false}},
       "y": {"field": "e", "type": "quantitative", "scale": {"domain": [-10, 3], "nice": false, "zero": false},
         "axis": {"orient": "left", "title": null, "minExtent": 22, "maxExtent": 22,
           "values": [-10,-9,-8,-7,-6,-5,-4,-3,-2,-1,0,1,2],
           "tickSize": {"condition": {"test": "datum.value % 2 == 0", "value": -6}, "value": -3},
           "labelExpr": "datum.value % 2 == 0 ? datum.label : ''"}},
       "detail": {"field": "b"}}},
    {"data": {"values": [{}]}, "mark": {"type": "text", "align": "left", "baseline": "middle", "font": "Liberation Serif", "fontSize": 13, "color": "black"},
     "encoding": {"x": {"datum": 0.084, "type": "quantitative"}, "y": {"datum": -8.5, "type": "quantitative", "axis": null}, "text": {"value": "10 ML of Cu"}}}
  ]
}
]
}
